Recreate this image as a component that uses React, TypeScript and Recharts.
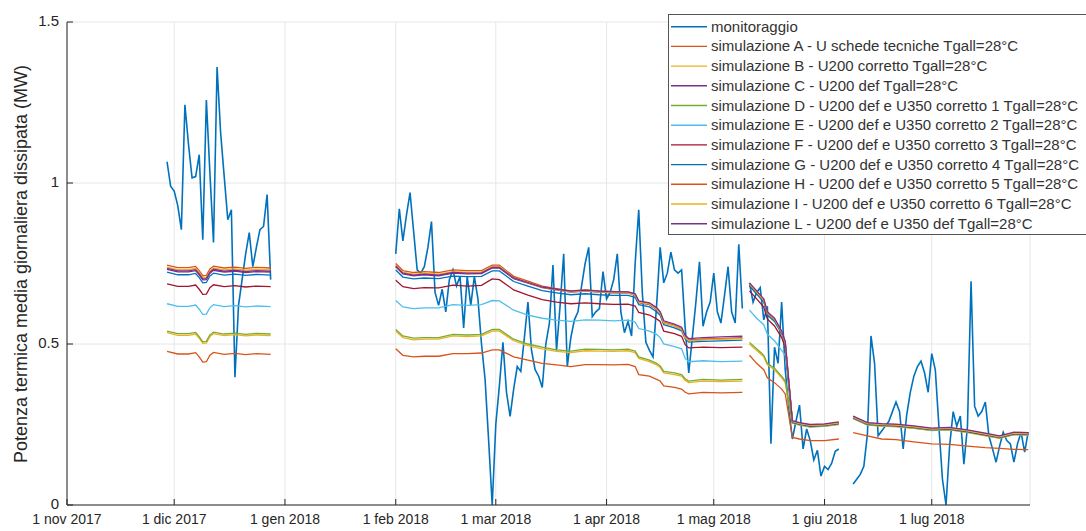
import React from 'react';
import { LineChart, Line, XAxis, YAxis, CartesianGrid, Legend } from 'recharts';

const FONT = '"Liberation Sans", Arial, Helvetica, sans-serif';
const INK = '#262626';

// x axis: days since 1 nov 2017
const monthTicks = [0, 30, 61, 92, 120, 151, 181, 212, 242];
const monthLabels = ['1 nov 2017', '1 dic 2017', '1 gen 2018', '1 feb 2018', '1 mar 2018', '1 apr 2018', '1 mag 2018', '1 giu 2018', '1 lug 2018'];
const yTicks = [0, 0.5, 1, 1.5];
const yTickLabels = ['0', '0.5', '1', '1.5'];

const seriesNames = [
  'monitoraggio',
  'simulazione A - U schede tecniche Tgall=28°C',
  'simulazione B - U200 corretto Tgall=28°C',
  'simulazione C - U200 def Tgall=28°C',
  'simulazione D - U200 def e U350 corretto 1 Tgall=28°C',
  'simulazione E - U200 def e U350 corretto 2 Tgall=28°C',
  'simulazione F - U200 def e U350 corretto 3 Tgall=28°C',
  'simulazione G - U200 def e U350 corretto 4 Tgall=28°C',
  'simulazione H - U200 def e U350 corretto 5 Tgall=28°C',
  'simulazione I - U200 def e U350 corretto 6 Tgall=28°C',
  'simulazione L - U200 def e U350 def Tgall=28°C',
];
const seriesColors = ['#0072BD', '#D95319', '#EDB120', '#7E2F8E', '#77AC30', '#4DBEEE', '#A2142F', '#0072BD', '#D95319', '#EDB120', '#7E2F8E'];
const simKeys = ['A', 'B', 'C', 'D', 'E', 'F', 'G', 'H', 'I', 'L'];

// monitoring: daily values, four periods (start day of each)
const monStarts = [28, 92, 191, 220];
const monSeg1 = [1.066, 0.99, 0.975, 0.93, 0.855, 1.243, 1.12, 1.016, 1.02, 1.088,
  0.824, 1.258, 1.03, 0.815, 1.36, 1.155, 1.02, 0.886, 0.917, 0.397,
  0.62, 0.70, 0.78, 0.846, 0.74, 0.80, 0.855, 0.865, 0.964, 0.70];
const monSeg2 = [0.78, 0.92, 0.82, 0.90, 0.97, 0.85, 0.73, 0.72, 0.74, 0.80,
  0.88, 0.66, 0.62, 0.67, 0.60, 0.70, 0.73, 0.68, 0.71, 0.55,
  0.71, 0.62, 0.71, 0.64, 0.50, 0.39, 0.20, 0.00, 0.25, 0.37,
  0.505, 0.35, 0.275, 0.36, 0.43, 0.415, 0.52, 0.63, 0.48, 0.42,
  0.40, 0.365, 0.50, 0.565, 0.745, 0.48, 0.62, 0.78, 0.43, 0.52,
  0.575, 0.60, 0.68, 0.75, 0.80, 0.585, 0.60, 0.61, 0.725, 0.64,
  0.66, 0.70, 0.78, 0.60, 0.535, 0.57, 0.525, 0.75, 0.917, 0.66,
  0.505, 0.48, 0.46, 0.62, 0.80, 0.69, 0.72, 0.785, 0.73, 0.72,
  0.73, 0.55, 0.41, 0.52, 0.63, 0.755, 0.555, 0.60, 0.63, 0.72,
  0.60, 0.565, 0.65, 0.74, 0.60, 0.565, 0.81, 0.61];
const monSeg3 = [0.69, 0.63, 0.66, 0.675, 0.575, 0.617, 0.19, 0.49, 0.44, 0.63,
  0.42, 0.30, 0.205, 0.26, 0.31, 0.174, 0.236, 0.20, 0.14, 0.17,
  0.09, 0.12, 0.11, 0.13, 0.167, 0.174];
const monSeg4 = [0.065, 0.08, 0.095, 0.12, 0.22, 0.525, 0.44, 0.215, 0.23, 0.245,
  0.26, 0.29, 0.32, 0.29, 0.174, 0.28, 0.35, 0.40, 0.43, 0.447,
  0.41, 0.35, 0.47, 0.42, 0.245, 0.08, 0.0, 0.183, 0.29, 0.245,
  0.276, 0.127, 0.245, 0.695, 0.307, 0.276, 0.29, 0.32, 0.214, 0.175,
  0.133, 0.183, 0.226, 0.20, 0.19, 0.133, 0.19, 0.226, 0.164, 0.226];

// simulations: sampled days (nulls mark the gaps between periods)
const simDays = [28, 31, 34, 36, 37, 38, 39, 40, 41, 44, 47, 50, 53, 57, 58,
  92, 94, 97, 100, 104, 108, 112, 116, 119, 121, 125, 129, 133, 137, 141, 145, 149, 153, 157, 159,
  160, 163, 165, 166, 167, 170, 172, 173, 174, 178, 183, 189, 190,
  191, 193, 195, 196, 198, 200, 201, 203, 205, 208, 212, 216, 218,
  220, 224, 228, 232, 237, 242, 247, 252, 257, 261, 265, 269];

const simA = [0.477, 0.469, 0.469, 0.473, 0.460, 0.444, 0.445, 0.465, 0.474, 0.468, 0.471, 0.467, 0.470, 0.468, null,
  0.485, 0.465, 0.460, 0.462, 0.462, 0.470, 0.470, 0.472, 0.482, 0.482, 0.460, 0.450, 0.440, 0.435, 0.430, 0.436, 0.436, 0.435, 0.437, 0.430,
  0.405, 0.400, 0.390, 0.385, 0.370, 0.365, 0.360, 0.350, 0.345, 0.350, 0.348, 0.350, null,
  0.465, 0.440, 0.420, 0.395, 0.380, 0.360, 0.345, 0.210, 0.205, 0.200, 0.200, 0.205, null,
  0.225, 0.215, 0.205, 0.203, 0.196, 0.190, 0.188, 0.183, 0.178, 0.176, 0.173, 0.172];
const simB = [0.535, 0.527, 0.527, 0.531, 0.518, 0.502, 0.503, 0.523, 0.532, 0.526, 0.529, 0.525, 0.528, 0.526, null,
  0.540, 0.520, 0.513, 0.515, 0.515, 0.525, 0.523, 0.525, 0.540, 0.540, 0.510, 0.495, 0.485, 0.477, 0.473, 0.479, 0.478, 0.477, 0.479, 0.473,
  0.455, 0.445, 0.435, 0.427, 0.410, 0.405, 0.400, 0.387, 0.380, 0.385, 0.383, 0.385, null,
  0.500, 0.480, 0.460, 0.435, 0.420, 0.395, 0.380, 0.254, 0.248, 0.242, 0.244, 0.250, null,
  0.268, 0.248, 0.245, 0.243, 0.238, 0.231, 0.233, 0.225, 0.215, 0.207, 0.218, 0.217];
const simC = [0.732, 0.724, 0.724, 0.728, 0.715, 0.699, 0.700, 0.720, 0.729, 0.723, 0.726, 0.722, 0.725, 0.723, null,
  0.740, 0.718, 0.712, 0.715, 0.712, 0.720, 0.718, 0.719, 0.736, 0.736, 0.703, 0.689, 0.675, 0.668, 0.661, 0.664, 0.661, 0.659, 0.658, 0.652,
  0.628, 0.622, 0.607, 0.595, 0.566, 0.556, 0.546, 0.521, 0.511, 0.514, 0.516, 0.518, null,
  0.684, 0.659, 0.634, 0.594, 0.574, 0.535, 0.503, 0.259, 0.253, 0.247, 0.249, 0.255, null,
  0.273, 0.253, 0.250, 0.248, 0.243, 0.236, 0.238, 0.230, 0.220, 0.212, 0.223, 0.222];
const simD = [0.540, 0.532, 0.532, 0.536, 0.523, 0.507, 0.508, 0.528, 0.537, 0.531, 0.534, 0.530, 0.533, 0.531, null,
  0.545, 0.525, 0.518, 0.520, 0.520, 0.530, 0.528, 0.530, 0.545, 0.545, 0.515, 0.500, 0.490, 0.482, 0.478, 0.484, 0.483, 0.482, 0.484, 0.478,
  0.460, 0.450, 0.440, 0.432, 0.415, 0.410, 0.405, 0.392, 0.385, 0.390, 0.388, 0.390, null,
  0.505, 0.485, 0.465, 0.440, 0.425, 0.400, 0.385, 0.255, 0.249, 0.243, 0.245, 0.251, null,
  0.269, 0.249, 0.246, 0.244, 0.239, 0.232, 0.234, 0.226, 0.216, 0.208, 0.219, 0.218];
const simE = [0.625, 0.617, 0.617, 0.621, 0.608, 0.592, 0.593, 0.613, 0.622, 0.616, 0.619, 0.615, 0.618, 0.616, null,
  0.635, 0.615, 0.610, 0.612, 0.612, 0.622, 0.620, 0.622, 0.635, 0.634, 0.605, 0.590, 0.580, 0.574, 0.570, 0.575, 0.574, 0.572, 0.574, 0.568,
  0.548, 0.540, 0.530, 0.520, 0.500, 0.492, 0.485, 0.455, 0.445, 0.448, 0.445, 0.447, null,
  0.605, 0.580, 0.560, 0.530, 0.510, 0.480, 0.465, 0.256, 0.250, 0.244, 0.246, 0.252, null,
  0.270, 0.250, 0.247, 0.245, 0.240, 0.233, 0.235, 0.227, 0.217, 0.209, 0.220, 0.219];
const simF = [0.687, 0.679, 0.679, 0.683, 0.670, 0.654, 0.655, 0.675, 0.684, 0.678, 0.681, 0.677, 0.680, 0.678, null,
  0.698, 0.678, 0.672, 0.675, 0.674, 0.683, 0.680, 0.682, 0.702, 0.700, 0.668, 0.652, 0.638, 0.630, 0.625, 0.628, 0.625, 0.623, 0.624, 0.618,
  0.598, 0.590, 0.578, 0.570, 0.540, 0.532, 0.524, 0.498, 0.488, 0.490, 0.489, 0.490, null,
  0.665, 0.640, 0.615, 0.578, 0.556, 0.520, 0.490, 0.257, 0.251, 0.245, 0.247, 0.253, null,
  0.271, 0.251, 0.248, 0.246, 0.241, 0.234, 0.236, 0.228, 0.218, 0.210, 0.221, 0.220];
const simG = [0.723, 0.715, 0.715, 0.719, 0.706, 0.690, 0.691, 0.711, 0.720, 0.714, 0.717, 0.713, 0.716, 0.714, null,
  0.730, 0.708, 0.702, 0.705, 0.703, 0.711, 0.709, 0.710, 0.727, 0.727, 0.694, 0.680, 0.666, 0.659, 0.653, 0.656, 0.653, 0.651, 0.651, 0.645,
  0.622, 0.615, 0.600, 0.589, 0.560, 0.550, 0.541, 0.516, 0.506, 0.508, 0.510, 0.512, null,
  0.680, 0.655, 0.630, 0.590, 0.570, 0.532, 0.500, 0.258, 0.252, 0.246, 0.248, 0.254, null,
  0.272, 0.252, 0.249, 0.247, 0.242, 0.235, 0.237, 0.229, 0.219, 0.211, 0.222, 0.221];
const simH = [0.745, 0.737, 0.737, 0.741, 0.728, 0.712, 0.713, 0.733, 0.742, 0.736, 0.739, 0.735, 0.738, 0.736, null,
  0.750, 0.728, 0.722, 0.725, 0.722, 0.730, 0.728, 0.728, 0.745, 0.745, 0.710, 0.695, 0.680, 0.672, 0.665, 0.668, 0.665, 0.663, 0.662, 0.655,
  0.632, 0.626, 0.610, 0.598, 0.568, 0.558, 0.548, 0.522, 0.512, 0.515, 0.517, 0.519, null,
  0.688, 0.663, 0.638, 0.598, 0.578, 0.538, 0.505, 0.260, 0.254, 0.248, 0.250, 0.256, null,
  0.274, 0.254, 0.251, 0.249, 0.244, 0.237, 0.239, 0.231, 0.221, 0.213, 0.224, 0.223];
const simI = [0.739, 0.731, 0.731, 0.735, 0.722, 0.706, 0.707, 0.727, 0.736, 0.730, 0.733, 0.729, 0.732, 0.730, null,
  0.745, 0.723, 0.717, 0.720, 0.717, 0.725, 0.723, 0.723, 0.740, 0.740, 0.706, 0.691, 0.676, 0.668, 0.662, 0.665, 0.662, 0.660, 0.659, 0.652,
  0.630, 0.624, 0.608, 0.596, 0.566, 0.556, 0.546, 0.520, 0.510, 0.513, 0.515, 0.517, null,
  0.686, 0.661, 0.636, 0.596, 0.576, 0.536, 0.504, 0.259, 0.253, 0.247, 0.249, 0.255, null,
  0.273, 0.253, 0.250, 0.248, 0.243, 0.236, 0.238, 0.230, 0.220, 0.212, 0.223, 0.222];
const simL = [0.735, 0.727, 0.727, 0.731, 0.718, 0.702, 0.703, 0.723, 0.732, 0.726, 0.729, 0.725, 0.728, 0.726, null,
  0.742, 0.720, 0.714, 0.717, 0.714, 0.722, 0.720, 0.721, 0.738, 0.738, 0.705, 0.691, 0.677, 0.670, 0.664, 0.667, 0.664, 0.662, 0.662, 0.656,
  0.634, 0.628, 0.613, 0.601, 0.572, 0.562, 0.552, 0.527, 0.517, 0.520, 0.522, 0.524, null,
  0.690, 0.665, 0.640, 0.600, 0.580, 0.540, 0.508, 0.262, 0.256, 0.250, 0.252, 0.258, null,
  0.276, 0.256, 0.253, 0.251, 0.246, 0.239, 0.241, 0.233, 0.223, 0.215, 0.226, 0.225];

const simSeries: Record<string, (number | null)[]> = {
  A: simA, B: simB, C: simC, D: simD, E: simE, F: simF, G: simG, H: simH, I: simI, L: simL,
};

// build tables for the library
const monSegments = [monSeg1, monSeg2, monSeg3, monSeg4];
const monData: { day: number; v: number | null }[] = [];
monSegments.forEach((seg, s) => {
  seg.forEach((v, i) => monData.push({ day: monStarts[s] + i, v }));
  if (s < monSegments.length - 1) monData.push({ day: monStarts[s] + seg.length, v: null });
});
const simData = simDays.map((day, i) => {
  const row: Record<string, number | null> = { day };
  simKeys.forEach((k) => { row[k] = simSeries[k][i]; });
  return row;
});

const X_DOMAIN: [number, number] = [0, 269.5];
const TICK_LEN = 6;
const FS = 15;
const FS_X = 14;

function BottomTick(props: any) {
  const { x, y, payload } = props;
  const idx = monthTicks.indexOf(payload.value);
  return (
    <g>
      <line x1={x} x2={x} y1={y} y2={y - TICK_LEN} stroke={INK} strokeWidth={1} />
      <text x={x} y={y + 19} textAnchor="middle" fill={INK} fontSize={FS_X} fontFamily={FONT}>{monthLabels[idx]}</text>
    </g>
  );
}
function TopTick(props: any) {
  const { x, y } = props;
  return <line x1={x} x2={x} y1={y} y2={y + TICK_LEN} stroke={INK} strokeWidth={1} />;
}
function LeftTick(props: any) {
  const { x, y, payload } = props;
  const idx = yTicks.indexOf(payload.value);
  return (
    <g>
      <line x1={x + 8} x2={x + 8 + TICK_LEN} y1={y} y2={y} stroke={INK} strokeWidth={1} />
      <text x={x} y={y - 1} dy="0.35em" textAnchor="end" fill={INK} fontSize={FS} fontFamily={FONT}>{yTickLabels[idx]}</text>
    </g>
  );
}
function RightTick(props: any) {
  const { x, y } = props;
  return <line x1={x - TICK_LEN} x2={x} y1={y} y2={y} stroke={INK} strokeWidth={1} />;
}

function LegendBox() {
  const rowH = 19.7;
  return (
    <svg width={430} height={222} style={{ display: 'block' }}>
      <rect x={0.5} y={0.5} width={440} height={220} fill="#ffffff" stroke="#555555" strokeWidth={1} />
      {seriesNames.map((name, i) => {
        const cy = 12.7 + i * rowH;
        return (
          <g key={name}>
            <line x1={3} x2={39} y1={cy} y2={cy} stroke={seriesColors[i]} strokeWidth={i === 0 ? 1.6 : 1.4} />
            <text x={43} y={cy + 5} fill="#333333" fontSize={FS} fontFamily={FONT}>{name}</text>
          </g>
        );
      })}
    </svg>
  );
}

export default function App() {
  return (
    <div style={{ position: 'absolute', left: 0, top: 0, width: 1086, height: 531, overflow: 'hidden', background: '#ffffff' }}>
      <LineChart width={1086} height={531} margin={{ top: 22, right: 56, bottom: 0, left: 0 }}>
        <CartesianGrid stroke="#e6e6e6" strokeWidth={1} />
        <XAxis dataKey="day" type="number" domain={X_DOMAIN} allowDataOverflow ticks={monthTicks}
          height={26} tickSize={0} tickMargin={0} tick={<BottomTick />} axisLine={{ stroke: INK }} tickLine={false} interval={0} />
        <XAxis xAxisId="top" orientation="top" dataKey="day" type="number" domain={X_DOMAIN} allowDataOverflow ticks={monthTicks}
          height={0} tickSize={0} tickMargin={0} tick={<TopTick />} axisLine={{ stroke: INK }} tickLine={false} interval={0} />
        <YAxis type="number" domain={[0, 1.5]} allowDataOverflow ticks={yTicks} width={67}
          tickSize={0} tickMargin={8} tick={<LeftTick />} axisLine={{ stroke: INK }} tickLine={false} interval={0} />
        <YAxis yAxisId="right" orientation="right" type="number" domain={[0, 1.5]} allowDataOverflow ticks={yTicks} width={0}
          tickSize={0} tickMargin={0} tick={<RightTick />} axisLine={{ stroke: INK }} tickLine={false} interval={0} />
        <Line data={monData} dataKey="v" name={seriesNames[0]} stroke={seriesColors[0]} strokeWidth={1.6}
          dot={false} activeDot={false} isAnimationActive={false} type="linear" />
        {simKeys.map((k, i) => (
          <Line key={k} data={simData} dataKey={k} name={seriesNames[i + 1]} stroke={seriesColors[i + 1]} strokeWidth={1.3}
            dot={false} activeDot={false} isAnimationActive={false} type="linear" />
        ))}
        <Legend layout="vertical" align="center" verticalAlign="middle" content={() => <LegendBox />}
          wrapperStyle={{ left: 668, top: 14, width: 430, height: 222 }} />
      </LineChart>
      <div style={{ position: 'absolute', left: 21 - 300, top: 264 - 10, width: 600, height: 20, lineHeight: '20px', textAlign: 'center', transform: 'rotate(-90deg)', fontFamily: FONT, fontSize: 18, color: INK, whiteSpace: 'nowrap' }}>
        Potenza termica media giornaliera dissipata (MW)
      </div>
    </div>
  );
}
